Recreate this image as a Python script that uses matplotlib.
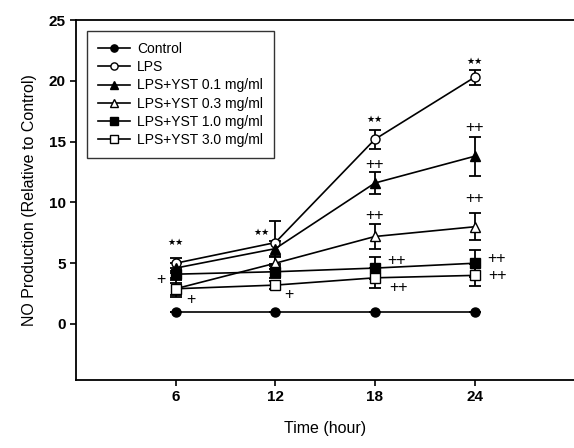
import matplotlib
matplotlib.use("Agg")
import matplotlib.pyplot as plt

plt.rcParams['font.family'] = ['Liberation Sans', 'DejaVu Sans']

hours = [6, 12, 18, 24]
labels = ["Control", "LPS", "LPS+YST 0.1 mg/ml", "LPS+YST 0.3 mg/ml",
          "LPS+YST 1.0 mg/ml", "LPS+YST 3.0 mg/ml"]

control = [1.0, 1.0, 1.0, 1.0]
lps = [5.0, 6.7, 15.2, 20.3]
yst01 = [4.6, 6.2, 11.6, 13.8]
yst03 = [2.9, 5.0, 7.2, 8.0]
yst10 = [4.1, 4.3, 4.6, 5.0]
yst30 = [2.9, 3.2, 3.8, 4.0]

control_err = [0, 0, 0, 0]
lps_err = [0.4, 1.8, 0.8, 0.6]
yst01_err = [0.4, 0.6, 0.9, 1.6]
yst03_err = [0.5, 0.5, 1.0, 1.1]
yst10_err = [0.3, 0.5, 0.9, 1.1]
yst30_err = [0.7, 0.3, 0.8, 0.9]

# significance marks: (text, hour, value)
stars = [(6, 6.7), (11.2, 7.5), (18, 16.8), (24, 21.6)]
plus = [("++", 18, 13.1), ("++", 24, 16.2),
        ("++", 18, 8.9), ("++", 24, 10.3),
        ("++", 19.3, 5.2), ("++", 25.3, 5.4),
        ("++", 19.4, 3.0), ("++", 25.4, 4.0),
        ("+", 5.1, 3.7), ("+", 6.9, 2.0), ("+", 12.8, 2.4)]

series = [control, lps, yst01, yst03, yst10, yst30]
errs = [control_err, lps_err, yst01_err, yst03_err, yst10_err, yst30_err]
styles = [("o", "black"), ("o", "white"), ("^", "black"), ("^", "white"),
          ("s", "black"), ("s", "white")]

fig = plt.figure(figsize=(5.74, 4.48), dpi=100)
ax = fig.add_axes([0.1324, 0.152, 0.868, 0.803])

lines = []
for vals, err, lab, (m, fc) in zip(series, errs, labels, styles):
    c = ax.errorbar(hours, vals, yerr=err, label=lab, color="black", marker=m,
                    markerfacecolor=fc, markeredgecolor="black", markersize=6.5,
                    linewidth=1.2, elinewidth=1.3, capsize=4.5, capthick=1.3)
    lines.append(c[0])

for x, y in stars:
    ax.text(x, y, "\u2605\u2605", ha="center", va="center", fontsize=6.5,
            family=['DejaVu Sans'])
for txt, x, y in plus:
    ax.text(x, y, txt, ha="center", va="center", fontsize=11.5)

ax.set_xlim(0, 30)
ax.set_ylim(-4.6, 25)
ax.set_xticks(hours)
ax.set_yticks([0, 5, 10, 15, 20, 25])
ax.spines['right'].set_visible(False)
for s in ['left', 'bottom', 'top']:
    ax.spines[s].set_linewidth(1.3)
ax.tick_params(direction="out", length=4, width=1.2, labelsize=11)
for t in ax.get_xticklabels() + ax.get_yticklabels():
    t.set_fontweight("bold")

ax.set_xlabel("Time (hour)", fontsize=11.5, labelpad=12)
ax.set_ylabel("NO Production (Relative to Control)", fontsize=11.5, labelpad=8)

leg = ax.legend(lines, labels, loc="upper left", bbox_to_anchor=(0.022, 0.97),
                fontsize=10, frameon=True, fancybox=False, edgecolor="black",
                handlelength=2.3, labelspacing=0.3, borderpad=0.8,
                handletextpad=0.5, borderaxespad=0, markerscale=0.8)
leg.get_frame().set_linewidth(1.0)

fig.savefig("out.png", dpi=100)
